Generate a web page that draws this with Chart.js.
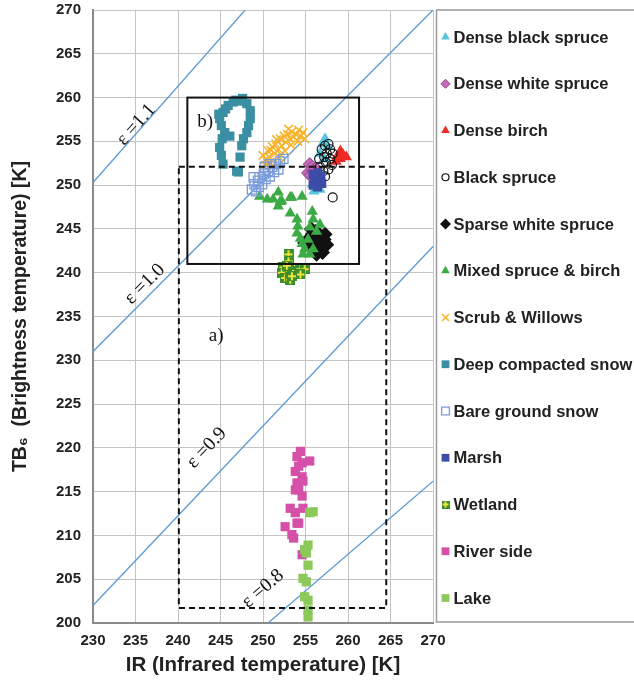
<!DOCTYPE html>
<html>
<head>
<meta charset="utf-8">
<script src="https://cdn.jsdelivr.net/npm/chart.js@4.4.1/dist/chart.umd.min.js"></script>
<style>
  html, body { margin: 0; padding: 0; background: #fff; }
  #wrap { width: 634px; height: 685px; }
</style>
</head>
<body>
<div id="wrap"><canvas id="chart" width="634" height="685"></canvas></div>
<script>
// --- Land cover points: [IR, TB6] in K ---
const denseBlackSpruce = [[257.3,255.3],[257.0,254.7],[257.6,254.4],[256.7,253.6],[257.2,253.0],[256.5,251.8],
  [256.1,250.7],[255.8,250.1],[256.5,249.8],[256.7,249.5],[256.0,249.3]];
const denseWhiteSpruce = [[255.5,252.4],[255.8,252.1],[256.2,251.9],[255.3,251.4],[255.9,251.6],[255.6,251.1]];
const denseBirch = [[258.7,253.2],[259.1,253.9],[259.4,253.5],[259.8,253.2],[259.1,253.0],[258.6,252.7]];
const blackSpruce = [[256.9,254.1],[257.3,254.5],[257.7,254.7],[257.9,254.1],[257.5,253.6],[257.2,253.2],
  [257.9,253.0],[258.2,253.6],[257.4,252.6],[256.7,252.1],[257.1,251.6],[257.7,251.8],[258.1,252.3],
  [257.3,251.0],[256.6,253.0],[258.2,248.6]];
const sparseWhiteSpruce = [[255.3,243.8],[255.8,244.4],[256.2,244.7],[256.7,244.3],[257.2,243.8],[257.5,243.2],
  [257.0,242.9],[256.5,242.5],[255.9,242.7],[255.4,243.1],[256.1,243.6],[256.7,243.6],[257.3,244.4],
  [255.7,245.0],[254.9,243.4],[256.3,242.1],[257.0,242.3]];
const mixedSpruceBirch = [[249.6,248.7],[250.5,248.4],[251.2,248.4],[251.8,249.2],[252.0,248.1],[251.8,247.6],
  [252.2,248.2],[253.2,248.6],[253.4,248.6],[254.6,248.7],[253.2,246.8],[254.0,246.1],[254.1,245.3],
  [254.0,244.5],[254.4,243.9],[254.6,243.3],[255.8,247.0],[255.9,246.1],[255.5,245.2],[255.3,243.8],
  [254.9,242.7],[254.7,242.1],[255.5,242.1],[255.9,242.7],[256.3,244.7],[256.7,245.5]];
const scrubWillows = [[250.3,252.9],[250.6,253.9],[250.8,252.6],[251.1,254.4],[251.4,253.6],[251.5,254.7],
  [251.8,254.1],[252.0,255.3],[252.2,254.5],[252.5,255.6],[252.7,254.9],[252.9,255.8],[253.2,255.3],
  [253.4,256.1],[253.6,255.5],[253.9,255.8],[254.1,255.0],[254.4,255.6],[254.7,256.0],[254.9,255.3],
  [252.6,253.9],[251.9,253.2],[251.2,252.2],[250.3,252.3],[250.7,253.2],[250.0,253.4],[251.6,255.2],
  [253.0,256.4],[254.2,256.3],[253.3,254.6],[252.1,253.5],[250.9,254.0]];
const deepCompactedSnow = [[245.3,258.3],[244.9,257.6],[245.1,256.8],[245.5,256.0],[246.1,255.6],[245.9,259.1],
  [246.5,259.5],[247.3,259.6],[248.1,259.3],[248.5,258.5],[248.5,257.6],[248.3,256.8],[248.1,256.0],
  [247.7,255.3],[247.5,254.5],[244.9,254.3],[245.1,253.4],[245.3,252.4],[247.3,253.2],[246.9,251.6],
  [245.2,255.3],[245.6,258.7],[247.1,251.5],[244.8,258.1],[247.6,259.9],[246.8,259.7]];
const bareGroundSnow = [[248.7,249.5],[249.0,250.1],[249.4,250.5],[249.2,249.3],[249.6,250.9],[249.9,250.1],
  [250.1,251.3],[250.3,250.7],[250.6,251.6],[250.8,251.0],[251.1,252.1],[251.3,251.5],[251.5,252.4],
  [251.8,251.8],[252.0,252.7],[252.4,253.0],[248.9,250.9],[249.5,249.8],[250.2,252.1],[250.8,252.4]];
const marsh = [[255.9,251.2],[256.4,251.4],[256.8,251.0],[256.1,250.6],[256.6,250.4],[255.9,250.0],
  [256.4,249.8],[256.9,250.2]];
const wetland = [[253.0,242.1],[253.0,241.3],[252.4,240.6],[252.2,240.0],[252.6,239.4],[253.2,239.2],
  [253.8,239.8],[254.4,240.4],[254.9,240.4],[254.4,239.8],[253.2,240.2],[252.8,240.8],[253.4,239.6]];
const riverSide = [[254.4,219.6],[254.0,219.0],[254.6,218.3],[255.5,218.5],[253.8,217.3],[254.6,216.7],
  [254.0,216.0],[254.7,216.2],[253.8,215.2],[254.6,214.5],[253.2,213.1],[254.7,213.1],[253.8,212.6],
  [254.2,211.4],[252.6,211.0],[253.4,210.1],[254.2,217.9],[254.2,215.2],[253.6,209.7],[254.6,207.8],
  [254.0,211.4]];
const lake = [[255.9,212.7],[255.5,212.6],[255.3,208.9],[255.1,208.0],[255.3,206.6],[254.7,205.1],
  [255.1,204.7],[254.9,203.0],[255.3,202.6],[255.3,201.5],[255.3,200.7],[254.9,208.4]];

// emissivity reference lines (end points as drawn)
const eps11 = [[230, 250.3], [247.9, 270]];
const eps10 = [[230, 231.0], [270, 270]];
const eps09 = [[230, 202.0], [270, 243.0]];
const eps08 = [[250.6, 200], [270, 216.2]];
const epsText = ['\u03b5 =1.1', '\u03b5 =1.0', '\u03b5 =0.9', '\u03b5 =0.8'];
const epsTextAt = [[235.1, 256.9], [236.1, 238.7], [243.4, 220.0], [250.0, 203.9]];

// study boxes [IR min, TB min, IR max, TB max]
const boxA = [240.1, 201.7, 264.5, 252.1];
const boxB = [241.1, 241.0, 261.3, 260.0];
const boxText = ['a)', 'b)'];
const boxTextAt = [[244.5, 232.8], [243.2, 257.2]];

const irRange = [230, 270];
const tbRange = [200, 270];

// --- marker for Wetland: green square with yellow cross ---
function wetlandMarker(size) {
    const c = document.createElement('canvas');
    c.width = size; c.height = size;
    const g = c.getContext('2d');
    g.fillStyle = '#3d8f2b';
    g.fillRect(0, 0, size, size);
    g.fillStyle = '#ece43a';
    const m = Math.floor(size / 2);
    g.fillRect(m - 1, 1, 2, size - 2);
    g.fillRect(1, m - 1, size - 2, 2);
    return c;
}
const wetImg = wetlandMarker(10);
const wetImgSmall = wetlandMarker(8);

const series = [
    { name: 'Dense black spruce', data: denseBlackSpruce, style: 'triangle', fill: '#55c6dc', border: '#55c6dc', bw: 0, r: 6.5, lr: 5 },
    { name: 'Dense white spruce', data: denseWhiteSpruce, style: 'rectRot', fill: '#c46cb5', border: '#8d3d86', bw: 1, r: 6.5, lr: 4.5 },
    { name: 'Dense birch', data: denseBirch, style: 'triangle', fill: '#ee2a24', border: '#ee2a24', bw: 0, r: 6.5, lr: 5 },
    { name: 'Black spruce', data: blackSpruce, style: 'circle', fill: 'rgba(0,0,0,0)', border: '#111', bw: 1.2, r: 4.5, lr: 3.5 },
    { name: 'Sparse white spruce', data: sparseWhiteSpruce, style: 'rectRot', fill: '#111', border: '#111', bw: 0, r: 7.5, lr: 5.5 },
    { name: 'Mixed spruce & birch', data: mixedSpruceBirch, style: 'triangle', fill: '#3caa45', border: '#3caa45', bw: 0, r: 6.5, lr: 5 },
    { name: 'Scrub & Willows', data: scrubWillows, style: 'crossRot', fill: '#f6b42c', border: '#f6b42c', bw: 1.5, r: 6, lr: 5 },
    { name: 'Deep compacted snow', data: deepCompactedSnow, style: 'rect', fill: '#3b8fa2', border: '#3b8fa2', bw: 0, r: 6.5, lr: 5.5 },
    { name: 'Bare ground snow', data: bareGroundSnow, style: 'rect', fill: 'rgba(0,0,0,0)', border: '#7b9cdb', bw: 1.3, r: 6.5, lr: 5.5 },
    { name: 'Marsh', data: marsh, style: 'rect', fill: '#3d4ca6', border: '#3d4ca6', bw: 0, r: 6.5, lr: 5.5 },
    { name: 'Wetland', data: wetland, style: wetImg, legendStyle: wetImgSmall, fill: '#3d8f2b', border: '#3d8f2b', bw: 0, r: 5, lr: 5 },
    { name: 'River side', data: riverSide, style: 'rect', fill: '#d64fa8', border: '#d64fa8', bw: 0, r: 6.5, lr: 5.5 },
    { name: 'Lake', data: lake, style: 'rect', fill: '#8cc85a', border: '#8cc85a', bw: 0, r: 6.5, lr: 5.5 }
];

const toXY = arr => arr.map(p => ({ x: p[0], y: p[1] }));

const datasets = series.map((s, i) => ({
    label: s.name,
    data: toXY(s.data),
    pointStyle: s.style,
    pointRadius: s.r,
    backgroundColor: s.fill,
    borderColor: s.border,
    borderWidth: s.bw,
    order: -i
}));

[eps11, eps10, eps09, eps08].forEach((ln, i) => {
    datasets.push({
        label: epsText[i],
        data: toXY(ln),
        showLine: true,
        pointRadius: 0,
        borderColor: '#5b9bd5',
        borderWidth: 1.3,
        order: 100
    });
});

// --- boxes, labels and the legend panel ---
const overlay = {
    id: 'overlay',
    afterDatasetsDraw(chart) {
        const { ctx, scales: { x, y } } = chart;
        ctx.save();
        ctx.strokeStyle = '#111';
        ctx.lineWidth = 2;
        [[boxB, []], [boxA, [6, 4]]].forEach(([b, dash]) => {
            ctx.setLineDash(dash);
            const x0 = x.getPixelForValue(b[0]), x1 = x.getPixelForValue(b[2]);
            const y0 = y.getPixelForValue(b[3]), y1 = y.getPixelForValue(b[1]);
            ctx.strokeRect(x0, y0, x1 - x0, y1 - y0);
        });
        ctx.setLineDash([]);

        ctx.fillStyle = '#111';
        ctx.textAlign = 'center';
        ctx.textBaseline = 'middle';
        ctx.font = '19px "Liberation Serif", "DejaVu Serif", serif';
        boxText.forEach((t, i) => {
            ctx.fillText(t, x.getPixelForValue(boxTextAt[i][0]), y.getPixelForValue(boxTextAt[i][1]));
        });

        ctx.font = '19.5px "Liberation Serif", "DejaVu Serif", serif';
        [eps11, eps10, eps09, eps08].forEach((ln, i) => {
            const ang = Math.atan2(
                y.getPixelForValue(ln[1][1]) - y.getPixelForValue(ln[0][1]),
                x.getPixelForValue(ln[1][0]) - x.getPixelForValue(ln[0][0]));
            ctx.save();
            ctx.translate(x.getPixelForValue(epsTextAt[i][0]), y.getPixelForValue(epsTextAt[i][1]));
            ctx.rotate(ang);
            ctx.fillText(epsText[i], 0, 0);
            ctx.restore();
        });
        ctx.restore();
    },
    afterDraw(chart) {
        const { ctx, chartArea } = chart;
        const left = chartArea.right + 3.5;
        ctx.save();
        ctx.strokeStyle = '#9a9a9a';
        ctx.lineWidth = 1.5;
        ctx.strokeRect(left, chartArea.top, 300, chartArea.bottom - chartArea.top - 1);
        const step = 46.75;
        series.forEach((s, i) => {
            const yy = chartArea.top + 27 + i * step;
            ctx.fillStyle = s.fill;
            ctx.strokeStyle = s.border;
            ctx.lineWidth = s.bw;
            Chart.helpers.drawPoint(ctx, {
                pointStyle: s.legendStyle || s.style, radius: s.lr, rotation: 0, borderWidth: s.bw
            }, left + 9, yy);
            ctx.fillStyle = '#222';
            ctx.font = 'bold 16.5px "Liberation Sans", Arial, sans-serif';
            ctx.textAlign = 'left';
            ctx.textBaseline = 'middle';
            ctx.fillText(s.name, left + 17, yy + 1);
        });
        ctx.restore();
    }
};

const tickFont = { family: '"Liberation Sans", Arial, sans-serif', size: 15, weight: 'bold' };
const xTitleFont = { family: '"Liberation Sans", Arial, sans-serif', size: 20.5, weight: 'bold' };
const yTitleFont = { family: '"Liberation Sans", Arial, sans-serif', size: 19.5, weight: 'bold' };

new Chart(document.getElementById('chart'), {
    type: 'scatter',
    data: { datasets },
    plugins: [overlay],
    options: {
        responsive: false,
        animation: false,
        devicePixelRatio: 1,
        layout: { padding: { top: 10, right: 201, left: 0, bottom: 0 } },
        plugins: { legend: { display: false }, tooltip: { enabled: false } },
        scales: {
            x: {
                min: irRange[0], max: irRange[1],
                ticks: { stepSize: 5, font: tickFont, color: '#222', padding: 9 },
                grid: { color: '#c4c4c4', drawTicks: false },
                border: { color: '#8a8a8a', width: 2 },
                title: { display: true, text: 'IR (Infrared temperature) [K]', font: xTitleFont, color: '#222', padding: { top: 4, bottom: 7 } },
                afterFit: s => { s.height = 62; s.paddingLeft = 0; s.paddingRight = 0; }
            },
            y: {
                min: tbRange[0], max: tbRange[1],
                ticks: { stepSize: 5, font: tickFont, color: '#222', padding: 12 },
                grid: { color: '#c4c4c4', drawTicks: false },
                border: { color: '#8a8a8a', width: 2 },
                title: { display: true, text: 'TB\u2086  (Brightness temperature) [K]', font: yTitleFont, color: '#222', padding: { top: 9, bottom: 4 } },
                afterFit: s => { s.width = 93; s.paddingTop = 0; s.paddingBottom = 0; }
            }
        }
    }
});
</script>
</body>
</html>
